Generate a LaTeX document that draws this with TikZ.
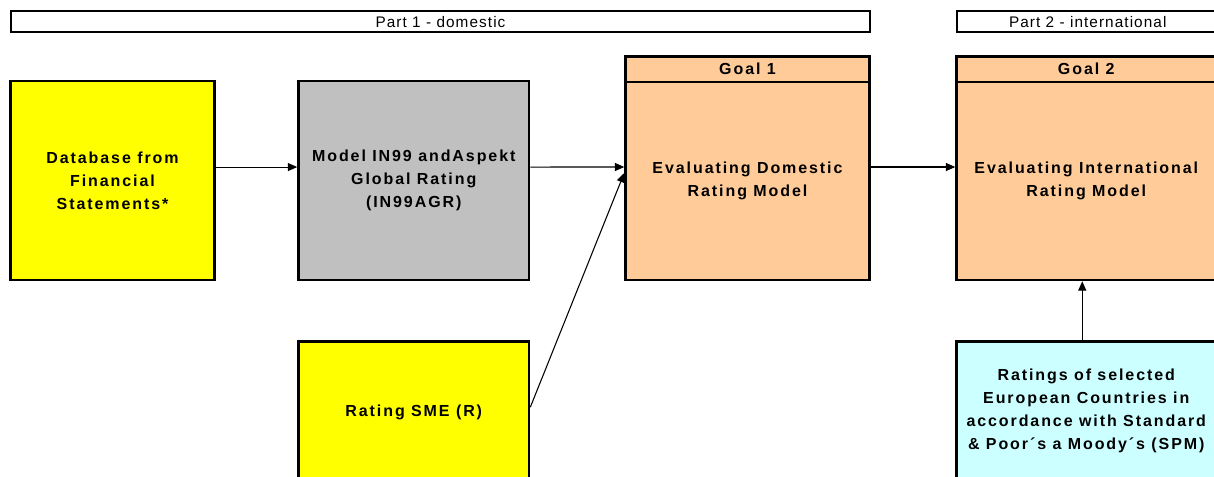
\documentclass[tikz,border=0pt]{standalone}
\usepackage{fontspec}
\setmainfont{Liberation Sans}
\newfontfamily\labelfont{Liberation Sans}[LetterSpace=12]
\newfontfamily\partfont{Liberation Sans}[LetterSpace=7]
\usetikzlibrary{arrows.meta,positioning}
\definecolor{dbyellow}{HTML}{FFFF00}
\definecolor{modelgray}{HTML}{C0C0C0}
\definecolor{goalpeach}{HTML}{FFCC99}
\definecolor{spmcyan}{HTML}{CCFFFF}

\begin{document}
\begin{tikzpicture}[
  x=0.75pt, y=-0.75pt,
  block/.style={draw, line width=1.9pt, align=center, inner sep=0pt,
    font=\labelfont\bfseries\fontsize{12}{17.25}\selectfont},
  part/.style={draw, line width=1.5pt, minimum height=15.4pt, inner sep=0pt,
    font=\partfont\fontsize{11.5}{14}\selectfont},
  flow/.style={-{Triangle[length=7pt,width=6pt]}, line width=0.8pt}
]
\useasboundingbox (0,0) rectangle (1214,476);

% the two parts
\node[part, minimum width=644.25pt] (part1) at (440.5,21.75) {Part 1 - domestic};
\node[part, minimum width=195.4pt] (part2) at (1087.75,21.75) {Part 2 - international};

% inputs and model
\node[block, fill=dbyellow, minimum width=153pt, minimum height=149.25pt] (db) at (112.5,180.5)
  {Database from\\Financial\\Statements*};
\node[block, fill=modelgray, minimum width=172.9pt, minimum height=149.25pt] (model) at (413.75,180.5)
  {Model IN99 andAspekt\\Global Rating\\(IN99AGR)};
\node[block, fill=dbyellow, minimum width=172.9pt, minimum height=106.1pt] (sme) at (413.75,412.25)
  {Rating SME (R)};

% goals
\node[block, fill=goalpeach, minimum width=183pt, minimum height=148.5pt] (goal1) at (747.5,181)
  {Evaluating Domestic\\Rating Model};
\node[block, fill=goalpeach, minimum width=183pt, minimum height=19.1pt] (goal1head) at (747.5,69.25)
  {Goal 1};
\node[block, fill=goalpeach, minimum width=194.6pt, minimum height=148.5pt] (goal2) at (1086.25,181)
  {Evaluating International\\Rating Model};
\node[block, fill=goalpeach, minimum width=194.6pt, minimum height=19.1pt] (goal2head) at (1086.25,69.25)
  {Goal 2};
\node[block, fill=spmcyan, minimum width=194.6pt, minimum height=103.9pt] (spm) at (1086.25,410.75)
  {Ratings of selected\\European Countries in\\accordance with Standard\\\& Poor´s a Moody´s (SPM)};

% connectors
\draw[flow] ([yshift=10.1pt]db.east) -- ([yshift=10.1pt]model.west);
\draw[flow] ([yshift=10.1pt]model.east) -- ([yshift=10.5pt]goal1.west);
\draw[flow] ([yshift=3.75pt]sme.east) -- ([yshift=6pt]goal1.west);
\draw[flow] ([yshift=10.5pt]goal1.east) -- ([yshift=10.5pt]goal2.west);
\draw[flow] ([xshift=-3pt]spm.north) -- ([xshift=-3pt]goal2.south);
\end{tikzpicture}
\end{document}
